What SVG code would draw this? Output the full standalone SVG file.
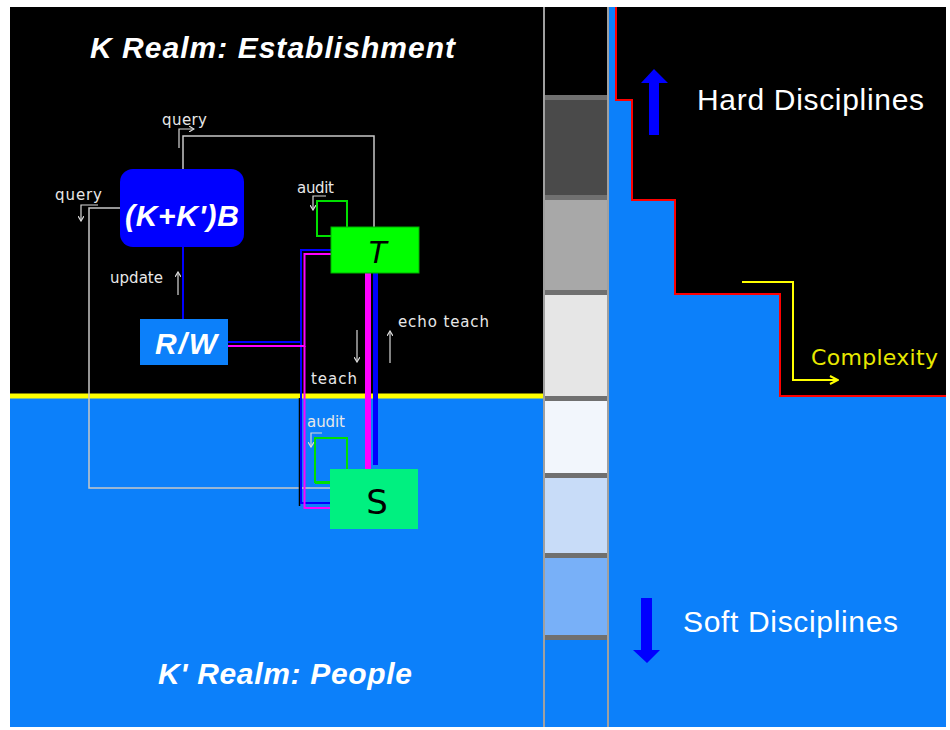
<svg xmlns="http://www.w3.org/2000/svg" width="950" height="730" viewBox="0 0 950 730">
<style>
.title{font-family:"Liberation Sans",Arial,sans-serif;font-weight:bold;font-style:italic;fill:#ffffff}
.small{font-family:"DejaVu Sans","Liberation Sans",sans-serif;font-size:15px;fill:#e8e8e8}
.big{font-family:"Liberation Sans",Arial,sans-serif;font-size:30px;fill:#ffffff}
.gray{fill:none;stroke:#c8c8c8;stroke-width:1.5}
.tiny{fill:none;stroke:#d8d8d8;stroke-width:1.2}
.blue{fill:none;stroke:#0000ff;stroke-width:2}
.mag{fill:none;stroke:#ff00ff;stroke-width:2}
.green{fill:none;stroke:#00e000;stroke-width:2}
.div{fill:#707070}
</style>
<defs>
<marker id="ah" markerWidth="6" markerHeight="6" refX="5" refY="3" orient="auto" markerUnits="userSpaceOnUse">
<path d="M0,0 L5,3 L0,6" fill="none" stroke="#d8d8d8" stroke-width="1.2"/>
</marker>
<marker id="ay" markerWidth="10" markerHeight="10" refX="9" refY="5" orient="auto" markerUnits="userSpaceOnUse">
<path d="M1,1 L9,5 L1,9" fill="none" stroke="#ffff00" stroke-width="2"/>
</marker>
</defs>
<rect width="950" height="730" fill="#ffffff"/>
<!-- left panel -->
<rect x="10" y="7" width="534" height="389" fill="#000000"/>
<rect x="10" y="396" width="534" height="331" fill="#0c80fa"/>
<rect x="10" y="393.5" width="534" height="5" fill="#ffff00"/>
<!-- strip -->
<g id="strip">
<rect x="544" y="7" width="64" height="720" fill="#000000"/>
<rect x="545" y="100" width="62" height="95" fill="#4a4a4a"/>
<rect x="545" y="200" width="62" height="90" fill="#a8a8a8"/>
<rect x="545" y="295" width="62" height="101" fill="#e6e6e6"/>
<rect x="545" y="401" width="62" height="72" fill="#f2f6fc"/>
<rect x="545" y="478" width="62" height="75" fill="#c8dcf8"/>
<rect x="545" y="558" width="62" height="77" fill="#78b0f8"/>
<rect x="545" y="640" width="62" height="87" fill="#0c80fa"/>
<rect class="div" x="545" y="95" width="62" height="5" fill="#7a7a7a"/>
<rect class="div" x="545" y="195" width="62" height="5"/>
<rect class="div" x="545" y="290" width="62" height="5"/>
<rect class="div" x="545" y="396" width="62" height="5"/>
<rect class="div" x="545" y="473" width="62" height="5"/>
<rect class="div" x="545" y="553" width="62" height="5"/>
<rect class="div" x="545" y="635" width="62" height="5"/>
<rect x="543" y="7" width="2" height="720" fill="#a0a0a0"/>
<rect x="607" y="7" width="2" height="720" fill="#a0a0a0"/>
</g>
<!-- right panel -->
<g id="right-panel">
<rect x="609" y="7" width="337" height="720" fill="#0c80fa"/>
<polygon points="616,7 946,7 946,396 780,396 780,294 675,294 675,200 632,200 632,100 616,100" fill="#000000"/>
<polyline points="616,7 616,100 632,100 632,200 675,200 675,294 780,294 780,396 946,396" fill="none" stroke="#ff0000" stroke-width="2"/>
<polygon points="654,69 668,83 659,83 659,135 649,135 649,83 641,83" fill="#0000ff"/>
<polygon points="641,598 652,598 652,650 660,650 647,663 633,650 641,650" fill="#0000ff"/>
<text class="big" x="697" y="110" textLength="227">Hard Disciplines</text>
<text class="big" x="683" y="632" textLength="215">Soft Disciplines</text>
<polyline points="742,282 793,282 793,380 838,380" fill="none" stroke="#ffff00" stroke-width="2" marker-end="url(#ay)"/>
<text x="811" y="365" font-family="DejaVu Sans,'Liberation Sans',sans-serif" font-size="22" fill="#e8e800" textLength="127">Complexity</text>
</g>
<!-- titles -->
<text class="title" x="90" y="58" font-size="30" textLength="365">K Realm: Establishment</text>
<text class="title" x="158" y="684" font-size="30" textLength="254">K' Realm: People</text>
<!-- connectors -->
<g id="connectors">
<polyline class="gray" points="183,169 183,136 374,136 374,227"/>
<polyline class="gray" points="120,208 89,208 89,488 330,488"/>
<line x1="183" y1="247" x2="183" y2="319" stroke="#0000ff" stroke-width="2"/>
<line x1="299.5" y1="398" x2="299.5" y2="506" stroke="#000000" stroke-width="1.5"/>
<polyline class="blue" points="228,342 301,342 301,250 331,250"/>
<polyline class="blue" points="301,342 301,503 330,503"/>
<polyline class="mag" points="228,346 304.5,346 304.5,254 331,254"/>
<polyline class="mag" points="304.5,346 304.5,508 330,508"/>
<line x1="368" y1="273" x2="368" y2="469" stroke="#ff00ff" stroke-width="6"/>
<line x1="375.5" y1="273" x2="375.5" y2="465" stroke="#0000ff" stroke-width="5"/>
<polyline class="green" points="331,236 317,236 317,201 347,201 347,227"/>
<polyline class="green" points="330,482 315,482 315,438 347,438 347,469"/>
<line x1="315" y1="482.5" x2="330" y2="482.5" stroke="#00e000" stroke-width="3"/>
<!-- small label arrows -->
<polyline class="tiny" points="179,148 179,129 194,129" marker-end="url(#ah)"/>
<polyline class="tiny" points="98,205 81,205 81,221" marker-end="url(#ah)"/>
<line class="tiny" x1="178" y1="295" x2="178" y2="272" marker-end="url(#ah)"/>
<polyline class="tiny" points="326,196 313,196 313,210" marker-end="url(#ah)"/>
<polyline class="tiny" points="322,433 311,433 311,447" marker-end="url(#ah)"/>
<line class="tiny" x1="357" y1="330" x2="357" y2="362" marker-end="url(#ah)"/>
<line class="tiny" x1="390" y1="363" x2="390" y2="331" marker-end="url(#ah)"/>
</g>
<!-- labels -->
<g id="labels">
<text class="small" x="162" y="125" textLength="45">query</text>
<text class="small" x="55" y="200" textLength="47">query</text>
<text class="small" x="110" y="283" textLength="53">update</text>
<text class="small" x="297" y="193" textLength="37">audit</text>
<text class="small" x="307" y="427" textLength="38">audit</text>
<text class="small" x="311" y="384" textLength="46">teach</text>
<text class="small" x="398" y="327" textLength="91">echo teach</text>
</g>
<!-- nodes -->
<g id="node-kb">
<rect x="120" y="169" width="124" height="78" rx="13" fill="#0000ff"/>
<text class="title" x="125" y="226" font-size="30" textLength="114">(K+K')B</text>
</g>
<g id="node-rw">
<rect x="140" y="319" width="88" height="46" fill="#0c80fa"/>
<text class="title" x="155" y="354" font-size="30" textLength="62">R/W</text>
</g>
<g id="node-t">
<rect x="331" y="227" width="88" height="46" fill="#00ff00" stroke="#00b000" stroke-width="1"/>
<text x="377" y="263" font-family="'Liberation Sans',Arial,sans-serif" font-style="italic" font-size="32" fill="#000000" text-anchor="middle">T</text>
</g>
<g id="node-s">
<rect x="330" y="469" width="88" height="60" fill="#00f080"/>
<text x="377" y="514" font-family="'DejaVu Sans','Liberation Sans',sans-serif" font-size="34" fill="#000000" text-anchor="middle">S</text>
</g>
</svg>
